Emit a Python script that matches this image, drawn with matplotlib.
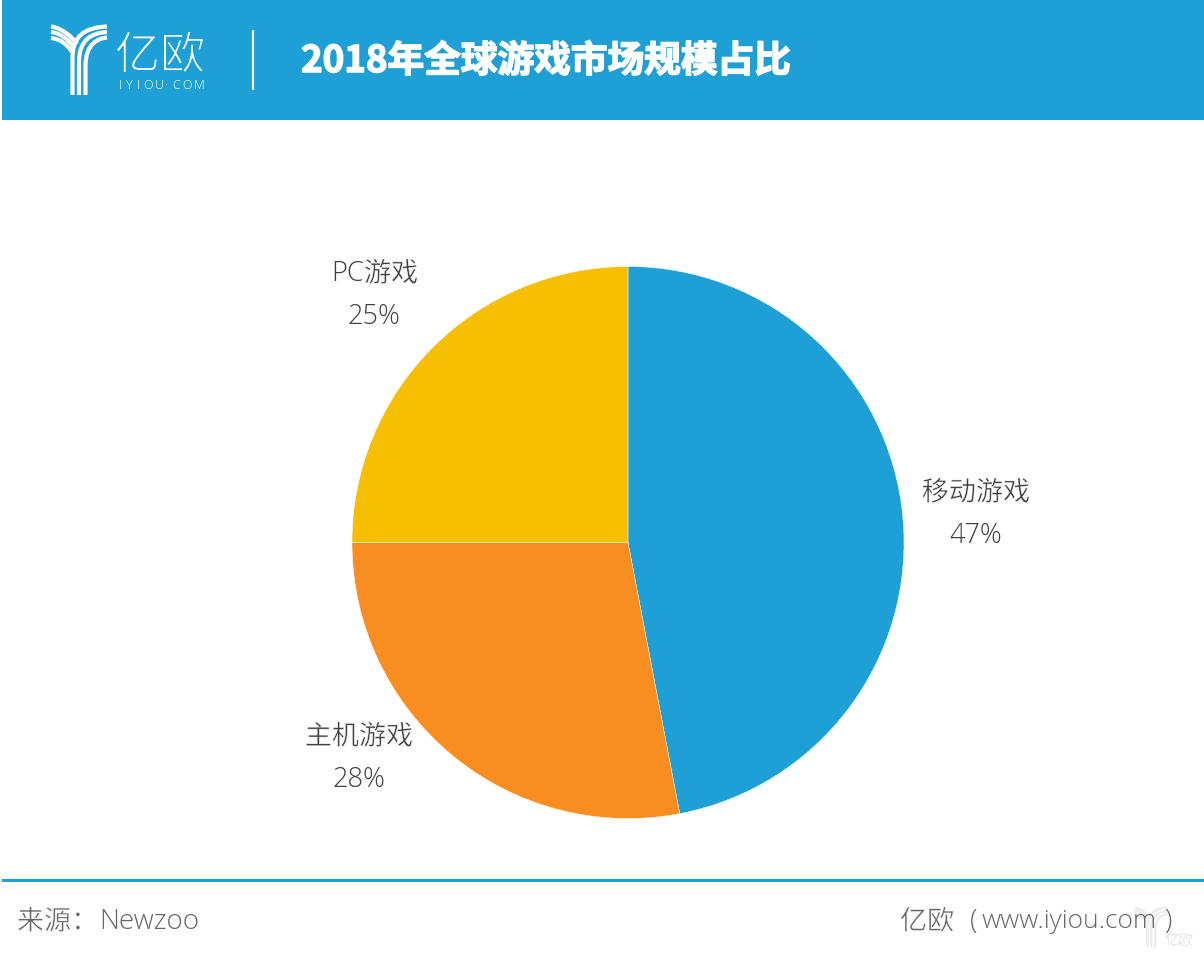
import matplotlib
matplotlib.use("Agg")
import matplotlib.pyplot as plt
import matplotlib.patheffects as pe
from matplotlib.patches import Rectangle, PathPatch
from matplotlib.path import Path

categories = ["移动游戏", "主机游戏", "PC游戏"]
shares = [47, 28, 25]
slice_colors = ["#1E9FD5", "#F88E21", "#F6BF00"]
title = "2018年全球游戏市场规模占比"

BLUE = "#1E9FD5"
LATIN_CJK = ["Open Sans", "Noto Sans CJK SC", "DejaVu Sans"]
CJK_LATIN = ["Noto Sans CJK SC", "Open Sans", "DejaVu Sans"]
W, H = 1204, 958
fig = plt.figure(figsize=(W / 100, H / 100), dpi=100, facecolor="white")
thin = [pe.Stroke(linewidth=0.35, foreground="white")]

ov = fig.add_axes([0, 0, 1, 1])
ov.set_xlim(0, W)
ov.set_ylim(H, 0)
ov.axis("off")

cx, cy, r = 628, 542.5, 276
pie = fig.add_axes([(cx - r) / W, 1 - (cy + r) / H, 2 * r / W, 2 * r / H])
pie.pie(shares, colors=slice_colors, startangle=90, counterclock=False, radius=1,
        wedgeprops=dict(edgecolor="white", linewidth=0.3))
pie.set_xlim(-1, 1)
pie.set_ylim(-1, 1)

# header
ov.add_patch(Rectangle((2, 0), W - 2, 120, color=BLUE, lw=0))
ov.plot([253, 253], [30, 90], color="white", lw=1.6, solid_capstyle="butt")
ov.text(301, 61.5, title, color="white", fontsize=26.4, fontweight="bold",
        family=CJK_LATIN, ha="left", va="center",
        path_effects=[pe.withStroke(linewidth=1.1, foreground="white")])


def logo(x0, y0, s, color, lw):
    def P(x, y):
        return (x0 + (x - 51) * s, y0 + (y - 25) * s)
    for x, yr, yb in [(72.5, 26.5, 58), (79, 32, 62), (85.5, 37.5, 66)]:
        verts = [P(x, 95), P(x, yb), P(x, yb - 22), P(x + 12, yr + 1), P(107, yr)]
        codes = [Path.MOVETO, Path.LINETO, Path.CURVE4, Path.CURVE4, Path.CURVE4]
        ov.add_patch(PathPatch(Path(verts, codes), fill=False, ec=color, lw=lw, capstyle="butt"))
    for y, ye, xe in [(26.5, 44, 77), (32, 48, 74.5), (38, 52, 72)]:
        verts = [P(51, y), P(60, y + 1), P(xe - 5, ye - 8), P(xe, ye)]
        codes = [Path.MOVETO, Path.CURVE4, Path.CURVE4, Path.CURVE4]
        ov.add_patch(PathPatch(Path(verts, codes), fill=False, ec=color, lw=lw, capstyle="butt"))


logo(51, 25, 1, "white", 3.0)
ov.text(160, 56, "亿欧", color="white", fontsize=32.5, family=CJK_LATIN,
        ha="center", va="center",
        path_effects=[pe.Stroke(linewidth=1.0, foreground=BLUE)])
for i, ch in enumerate("IYIOU·COM"):
    ov.text([120, 129, 138, 148, 159, 167, 176, 187, 199][i], 85.5, ch, color="white",
            fontsize=9, family=["Open Sans"], fontweight="light", ha="center", va="center")

# slice labels
label_pos = [(976, 490), (359, 734), (374, 271)]
for cat, val, (x, y) in zip(categories, shares, label_pos):
    if cat.startswith("PC"):
        ov.text(x - 10, y + 3, cat[:2], color="#404040", fontsize=19.5, family=LATIN_CJK,
                fontweight="light", ha="right", va="center")
        ov.text(x - 10, y + 3, cat[2:], color="#404040", fontsize=19.5, family=CJK_LATIN,
                ha="left", va="center", path_effects=thin)
    else:
        ov.text(x, y + 3, cat, color="#404040", fontsize=19.5, family=CJK_LATIN,
                ha="center", va="center", path_effects=thin)
    ov.text(x, y + 46, f"{val}%", color="#404040", fontsize=19.5, family=LATIN_CJK,
            fontweight="light", ha="center", va="center")

# footer
ov.add_patch(Rectangle((2, 879), W - 2, 3, color=BLUE, lw=0))
ov.text(17, 922, "来源：", color="#666666", fontsize=19.5, family=CJK_LATIN,
        ha="left", va="center", path_effects=thin)
ov.text(99, 922, "Newzoo", color="#666666", fontsize=20, family=LATIN_CJK,
        fontweight="light", ha="left", va="center")
ov.text(900, 922, "亿欧", color="#666666", fontsize=19.5, family=CJK_LATIN,
        ha="left", va="center", path_effects=thin)
ov.text(970, 922, "(", color="#666666", fontsize=19.5, family=LATIN_CJK,
        fontweight="light", ha="left", va="center")
ov.text(982, 922, "www.iyiou.com", color="#666666", fontsize=19, family=LATIN_CJK,
        fontweight="light", ha="left", va="center")
ov.text(1172, 922, ")", color="#666666", fontsize=19.5, family=LATIN_CJK,
        fontweight="light", ha="right", va="center")

# watermark
logo(1135, 907, 0.58, "#EDEDED", 1.8)
ov.text(1179, 941, "亿欧", color="#E6E6E6", fontsize=10.5, family=CJK_LATIN,
        ha="center", va="center")

fig.savefig("out.png", dpi=100)
